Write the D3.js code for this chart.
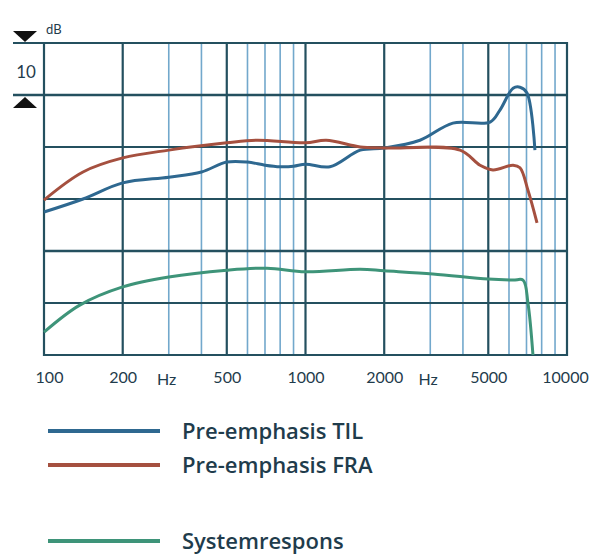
<!DOCTYPE html>
<html>
<head>
<meta charset="utf-8">
<script src="https://cdn.jsdelivr.net/npm/d3@7"></script>
<style>
  body { margin: 0; background: #fff; }
  text { font-family: Lato, "Open Sans", sans-serif; fill: #1f3c4c; }
</style>
</head>
<body>
<div id="chart"></div>
<script>
/* DATA (frequency in Hz, level in dB, 10 dB per grid division) */
var tilFreq = [100, 141, 200, 300, 400, 500, 600, 700, 800, 900, 1000, 1240, 1620, 2000, 2740, 3660, 5080, 5540, 6220, 6610, 7030, 7540];
var tilDb   = [27.5, 30.0, 33.1, 34.2, 35.2, 37.1, 37.1, 36.5, 36.2, 36.3, 36.7, 36.2, 39.4, 39.8, 41.3, 44.6, 44.8, 47.1, 51.3, 51.5, 50.4, 39.4];

var fraFreq = [100, 141, 200, 300, 500, 650, 1000, 1200, 1620, 2000, 3900, 4650, 5210, 6220, 6610, 7090, 7680];
var fraDb   = [29.8, 35.2, 37.9, 39.4, 40.8, 41.3, 40.8, 41.3, 40.0, 39.8, 39.4, 36.5, 35.6, 36.5, 36.0, 31.7, 25.4];

var sysFreq = [100, 137, 200, 300, 500, 713, 1000, 1620, 2000, 3070, 5000, 6220, 6790, 7090, 7410];
var sysDb   = [4.4, 9.6, 13.1, 15.0, 16.3, 16.7, 16.0, 16.5, 16.2, 15.6, 14.6, 14.4, 14.4, 10.0, 0];

var tickValues = [100, 200, 500, 1000, 2000, 5000, 10000];
var gridFreqs = [];
[100, 1000].forEach(function (dec) {
    for (var k = 1; k <= 9; k++) gridFreqs.push(dec * k);
});
gridFreqs.push(10000);
var thickFreqs = [100, 200, 500, 1000, 2000, 5000, 10000];
var dbLines = [0, 10, 20, 30, 40, 50, 60];

var seriesNames = ["Pre-emphasis TIL", "Pre-emphasis FRA", "Systemrespons"];
var seriesColors = ["#2e6890", "#a5503f", "#3e9479"];

/* SETUP */
var w = 599, h = 555;
var padLeft = 44, padRight = 567, padTop = 43, padBottom = 355;

var svg = d3.select("#chart").append("svg")
    .attr("width", w)
    .attr("height", h);

var xScale = d3.scaleLog().domain([100, 10000]).range([padLeft, padRight]);
var yScale = d3.scaleLinear().domain([0, 60]).range([padBottom, padTop]);

/* GRID */
svg.append("g").selectAll("line")
    .data(gridFreqs.filter(f => thickFreqs.indexOf(f) < 0))
    .enter().append("line")
    .attr("x1", d => xScale(d)).attr("x2", d => xScale(d))
    .attr("y1", padTop).attr("y2", padBottom)
    .attr("stroke", "#72a8cc")
    .attr("stroke-width", 1.6);

svg.append("g").selectAll("line")
    .data(thickFreqs)
    .enter().append("line")
    .attr("x1", d => xScale(d)).attr("x2", d => xScale(d))
    .attr("y1", padTop - 1).attr("y2", padBottom + 1)
    .attr("stroke", "#24505f")
    .attr("stroke-width", 2.2);

svg.append("g").selectAll("line")
    .data(dbLines)
    .enter().append("line")
    .attr("x1", d => (d >= 50 ? 13 : padLeft))
    .attr("x2", padRight)
    .attr("y1", d => yScale(d)).attr("y2", d => yScale(d))
    .attr("stroke", "#24505f")
    .attr("stroke-width", d => (d === 20 || d === 50 ? 2.6 : 2.2));

/* dB MARKER */
var yTop = yScale(60), yTen = yScale(50);
svg.append("path")
    .attr("d", "M13," + (yTop - 12) + "L37," + (yTop - 12) + "L25," + (yTop - 1) + "Z")
    .attr("fill", "#111");
svg.append("path")
    .attr("d", "M13," + (yTen + 13) + "L37," + (yTen + 13) + "L25," + (yTen + 2) + "Z")
    .attr("fill", "#111");
svg.append("text")
    .attr("x", 46).attr("y", 34)
    .style("font-size", "13px")
    .text("dB");
svg.append("text")
    .attr("x", 26).attr("y", 78)
    .style("text-anchor", "middle")
    .style("font-size", "17px")
    .text("10");

/* CURVES */
var line = d3.line()
    .x(d => xScale(d[0]))
    .y(d => yScale(d[1]))
    .curve(d3.curveCatmullRom.alpha(0.5));

var series = [
    d3.zip(tilFreq, tilDb),
    d3.zip(fraFreq, fraDb),
    d3.zip(sysFreq, sysDb)
];

svg.append("g").selectAll("path")
    .data(series)
    .enter().append("path")
    .attr("d", line)
    .attr("fill", "none")
    .attr("stroke", (d, i) => seriesColors[i])
    .attr("stroke-width", 3)
    .attr("stroke-linejoin", "round");

/* AXIS */
var xAxis = d3.axisBottom(xScale)
    .tickValues(tickValues)
    .tickSize(0)
    .tickPadding(0)
    .tickFormat(d3.format("d"));

var axisG = svg.append("g")
    .attr("transform", "translate(0," + (padBottom + 17) + ")")
    .call(xAxis);
axisG.select(".domain").remove();
axisG.selectAll("text")
    .style("font-size", "16px")
    .style("fill", "#1f3c4c")
    .attr("dx", (d, i) => (i === 0 ? 5 : i === tickValues.length - 1 ? -2 : 0));

[200, 2000].forEach(function (f) {
    svg.append("text")
        .attr("x", xScale(f) + 44)
        .attr("y", padBottom + 30)
        .style("text-anchor", "middle")
        .style("font-size", "16px")
        .text("Hz");
});

/* LEGEND */
var legendY = [431, 465, 541];
var legend = svg.append("g").selectAll("g")
    .data(seriesNames)
    .enter().append("g")
    .attr("transform", (d, i) => "translate(0," + legendY[i] + ")");

legend.append("line")
    .attr("x1", 48).attr("x2", 160)
    .attr("stroke", (d, i) => seriesColors[i])
    .attr("stroke-width", 4);

legend.append("text")
    .attr("x", 182)
    .attr("y", 8)
    .style("font-family", "'Open Sans', sans-serif")
    .style("font-size", "22px")
    .style("font-weight", "600")
    .text(d => d);
</script>
</body>
</html>
